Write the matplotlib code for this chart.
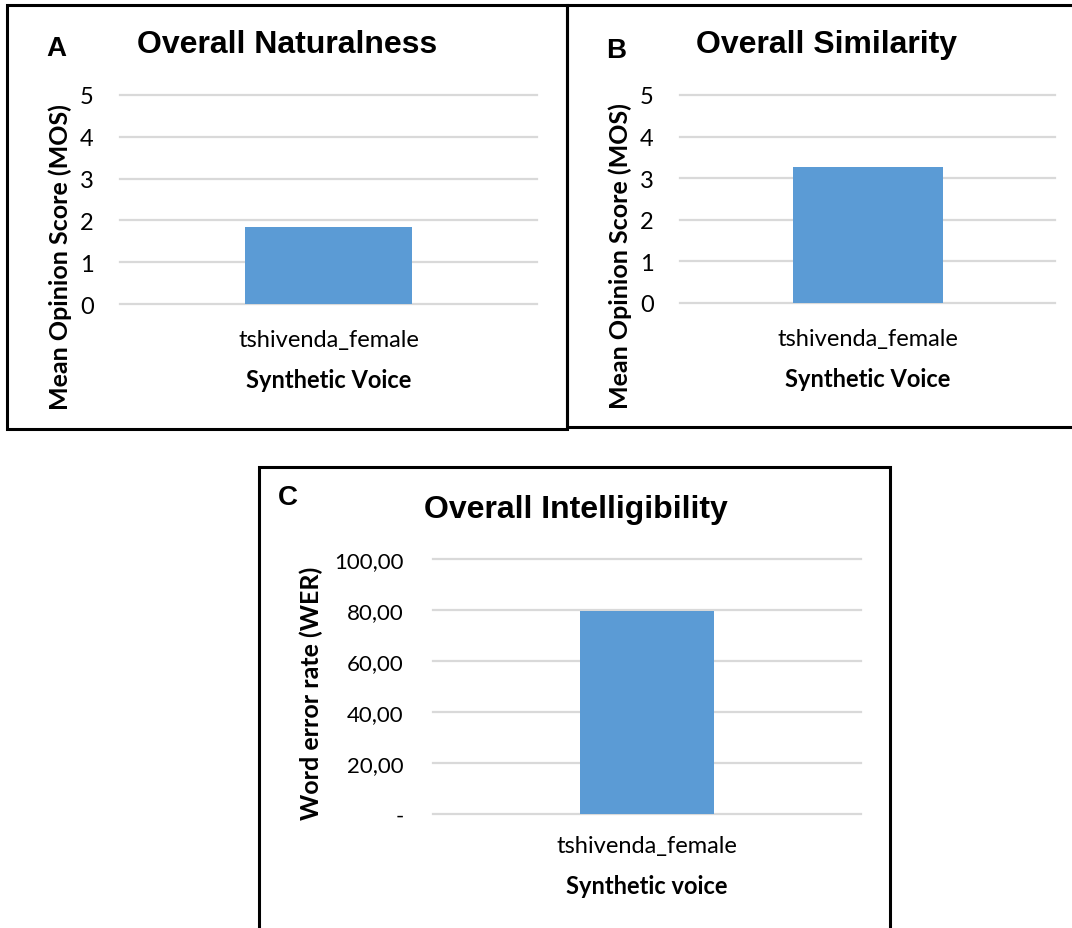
import matplotlib
matplotlib.use("Agg")
import matplotlib.pyplot as plt
from matplotlib.patches import Rectangle
from matplotlib.ticker import FuncFormatter

# data
voice = ["tshivenda_female"]
naturalness_mos = [1.85]
similarity_mos = [3.27]
intelligibility_wer = [79.6]

mos_ticks = [0, 1, 2, 3, 4, 5]
wer_ticks = [0, 20, 40, 60, 80, 100]

W, H = 1072, 929
BAR = "#5b9bd5"
GRID = "#d9d9d9"
BODY = "Lato"
HEAD = "Liberation Sans"

fig = plt.figure(figsize=(W / 100, H / 100), dpi=100)


def axes_px(x0, y0, x1, y1):
    return fig.add_axes([x0 / W, 1 - y1 / H, (x1 - x0) / W, (y1 - y0) / H])


def text_px(x, y, s, **kw):
    fig.text(x / W, 1 - y / H, s, ha="center", va="center", **kw)


def box_px(x0, y0, x1, y1):
    fig.patches.append(Rectangle((x0 / W, 1 - y1 / H), (x1 - x0) / W, (y1 - y0) / H,
                                 transform=fig.transFigure, fill=False,
                                 edgecolor="black", linewidth=2.2, zorder=10))


def bar_panel(ax, values, ticks, ylim, width, xlabel, ylabel, ylab_xy,
              fmt=None, xpad=15, ypad=18, ysize=16):
    ax.bar(range(len(values)), values, width=width, color=BAR, zorder=2)
    ax.set_xlim(-0.5, 0.5)
    ax.set_ylim(*ylim)
    ax.set_yticks(ticks)
    if fmt is not None:
        ax.yaxis.set_major_formatter(FuncFormatter(fmt))
    ax.set_xticks(range(len(values)))
    ax.set_xticklabels(voice, fontname=BODY, fontsize=17)
    ax.tick_params(axis="x", length=0, pad=xpad)
    ax.tick_params(axis="y", length=0, pad=ypad, labelsize=ysize)
    for lab in ax.get_yticklabels():
        lab.set_fontname(BODY)
    ax.grid(axis="y", color=GRID, linewidth=1.6, zorder=0)
    for ln in ax.get_ygridlines():
        ln.set_clip_on(False)
    for sp in ax.spines.values():
        sp.set_visible(False)
    ax.set_xlabel(xlabel, fontname=BODY, fontweight="bold", fontsize=17, labelpad=13)
    ax.set_ylabel(ylabel, fontname=BODY, fontweight="bold", fontsize=18)
    ax.yaxis.set_label_coords(*ylab_xy)


# A: naturalness
ax_a = axes_px(120, 96, 537, 305)
bar_panel(ax_a, naturalness_mos, mos_ticks, (0, 5), 0.40,
          "Synthetic Voice", "Mean Opinion Score (MOS)", (-0.115, 0.23),
          xpad=18, ypad=19, ysize=17)
text_px(287, 45, "Overall Naturalness", fontname=HEAD, fontweight="bold", fontsize=23)
text_px(56, 49, "A", fontname=HEAD, fontweight="bold", fontsize=20)
box_px(7, 6, 567, 430)

# B: similarity
ax_b = axes_px(680, 96, 1055, 304)
bar_panel(ax_b, similarity_mos, mos_ticks, (0, 5), 0.40,
          "Synthetic Voice", "Mean Opinion Score (MOS)", (-0.128, 0.23),
          xpad=18, ypad=19, ysize=17)
text_px(826, 45, "Overall Similarity", fontname=HEAD, fontweight="bold", fontsize=23)
text_px(616, 51, "B", fontname=HEAD, fontweight="bold", fontsize=20)
box_px(567, 6, 1080, 428)

# C: intelligibility
ax_c = axes_px(433, 560, 861, 815)
bar_panel(ax_c, intelligibility_wer, wer_ticks, (0, 100), 0.315,
          "Synthetic voice", "Word error rate (WER)", (-0.258, 0.475),
          fmt=lambda v, p: "-" if v == 0 else f"{v:.2f}".replace(".", ","),
          xpad=15, ypad=21, ysize=16)
text_px(576, 510, "Overall Intelligibility", fontname=HEAD, fontweight="bold", fontsize=23)
text_px(288, 498, "C", fontname=HEAD, fontweight="bold", fontsize=20)
box_px(259, 468, 890, 940)

fig.savefig("out.png", dpi=100)
